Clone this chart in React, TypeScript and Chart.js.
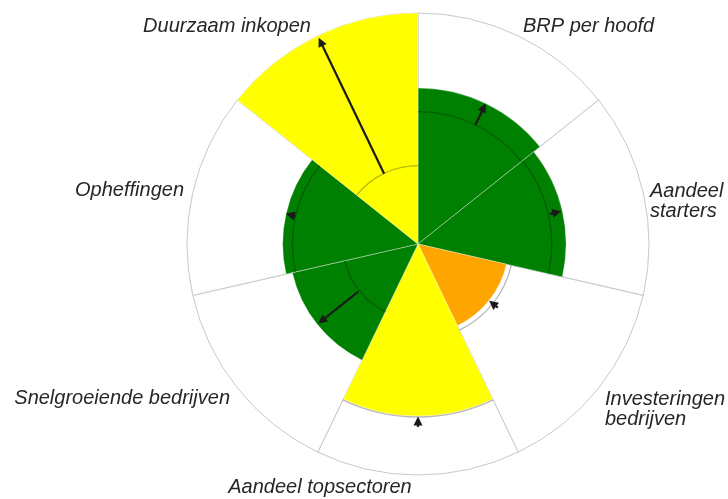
import React, { useEffect, useRef } from 'react';
import { Chart, registerables } from 'chart.js';

Chart.register(...registerables);

// ---- data ----
const categories = [
  'BRP per hoofd',
  'Aandeel starters',
  'Investeringen bedrijven',
  'Aandeel topsectoren',
  'Snelgroeiende bedrijven',
  'Opheffingen',
  'Duurzaam inkopen',
];
const labelLines = [
  ['BRP per hoofd'],
  ['Aandeel', 'starters'],
  ['Investeringen', 'bedrijven'],
  ['Aandeel topsectoren'],
  ['Snelgroeiende bedrijven'],
  ['Opheffingen'],
  ['Duurzaam inkopen'],
];
const scaleMax = 100;
const scores = [67.5, 64.1, 39.3, 74.5, 55.8, 58.6, 100];
const norms = [57.3, 57.9, 41.4, 74.9, 32.5, 54.4, 33.9];
const trendFrom = [57.1, 58.7, 44.2, 79.2, 33.1, 54.3, 33.8];
const trendTo = [67.5, 63.6, 39.4, 74.7, 55.2, 58.7, 99.1];

// ---- styles ----
const scoreColors = ['#008000', '#008000', '#ffa500', '#ffff00', '#008000', '#008000', '#ffff00'];
// label anchor offsets from chart centre: [dx, dy(baseline of first line), align]
const labelAnchors: [number, number, CanvasTextAlign][] = [
  [105, -212, 'left'],
  [232, -47, 'left'],
  [187, 161, 'left'],
  [-98, 249, 'center'],
  [-188, 160, 'right'],
  [-234, -48, 'right'],
  [-191, -212, 'center'],
];

export default function App() {
  const ref = useRef<HTMLCanvasElement>(null);

  useEffect(() => {
    const canvas = ref.current;
    if (!canvas) return;

    const overlay = {
      id: 'overlay',
      afterDatasetsDraw(chart: any) {
        const ctx: CanvasRenderingContext2D = chart.ctx;
        const scale = chart.scales.r;
        const meta = chart.getDatasetMeta(0);
        const cx = scale.xCenter;
        const cy = scale.yCenter;
        ctx.save();
        meta.data.forEach((arc: any, i: number) => {
          const s = arc.startAngle;
          const e = arc.endAngle;
          const mid = (s + e) / 2;
          // reference arc
          const rn = scale.getDistanceFromCenterForValue(norms[i]);
          ctx.beginPath();
          ctx.arc(cx, cy, rn, s, e);
          ctx.strokeStyle = 'rgba(0,0,0,0.28)';
          ctx.lineWidth = 1.3;
          ctx.stroke();
          // trend arrow
          const r0 = scale.getDistanceFromCenterForValue(trendFrom[i]);
          const r1 = scale.getDistanceFromCenterForValue(trendTo[i]);
          const dir = r1 >= r0 ? 1 : -1;
          const head = 9;
          const hw = 4.5;
          const cos = Math.cos(mid);
          const sin = Math.sin(mid);
          const pt = (r: number) => [cx + r * cos, cy + r * sin];
          const len = Math.abs(r1 - r0);
          const baseR = r1 - dir * head;
          if (len > head) {
            const [x0, y0] = pt(r0);
            const [xb, yb] = pt(baseR + dir * 1);
            ctx.beginPath();
            ctx.moveTo(x0, y0);
            ctx.lineTo(xb, yb);
            ctx.strokeStyle = '#1a1a1a';
            ctx.lineWidth = 2.2;
            ctx.stroke();
          }
          const [xt, yt] = pt(r1);
          const [xB, yB] = pt(baseR);
          const px = -sin;
          const py = cos;
          ctx.beginPath();
          ctx.moveTo(xt, yt);
          ctx.lineTo(xB + px * hw, yB + py * hw);
          ctx.lineTo(xB - px * hw, yB - py * hw);
          ctx.closePath();
          ctx.fillStyle = '#1a1a1a';
          ctx.fill();
        });
        ctx.restore();
      },
      afterDraw(chart: any) {
        const ctx: CanvasRenderingContext2D = chart.ctx;
        const scale = chart.scales.r;
        const cx = scale.xCenter;
        const cy = scale.yCenter;
        ctx.save();
        ctx.font = 'italic 20px "Liberation Sans", Arial, sans-serif';
        ctx.fillStyle = '#262626';
        ctx.textBaseline = 'alphabetic';
        labelLines.forEach((lines, i) => {
          const [dx, dy, align] = labelAnchors[i];
          ctx.textAlign = align;
          lines.forEach((line, j) => {
            ctx.fillText(line, cx + dx, cy + dy + j * 20);
          });
        });
        ctx.restore();
      },
    };

    const chart = new Chart(canvas, {
      type: 'polarArea',
      data: {
        labels: categories,
        datasets: [
          {
            data: scores,
            backgroundColor: scoreColors,
            borderColor: 'rgba(255,255,255,0.35)',
            borderWidth: 1,
          },
          {
            data: categories.map(() => scaleMax),
            backgroundColor: '#ffffff',
            borderColor: '#c8c8c8',
            borderWidth: 1,
          },
        ],
      },
      options: {
        responsive: false,
        animation: false,
        layout: { padding: { left: 187, right: 79, top: 13, bottom: 24 } },
        plugins: {
          legend: { display: false },
          tooltip: { enabled: false },
        },
        scales: {
          r: {
            min: 0,
            max: scaleMax,
            ticks: { display: false },
            grid: { display: false },
            angleLines: { display: false },
            pointLabels: { display: false },
          },
        },
      } as any,
      plugins: [overlay],
    });

    return () => chart.destroy();
  }, []);

  return (
    <div style={{ position: 'fixed', left: 0, top: 0, width: 728, height: 499, background: '#ffffff' }}>
      <canvas ref={ref} width={728} height={499} style={{ display: 'block' }} />
    </div>
  );
}
